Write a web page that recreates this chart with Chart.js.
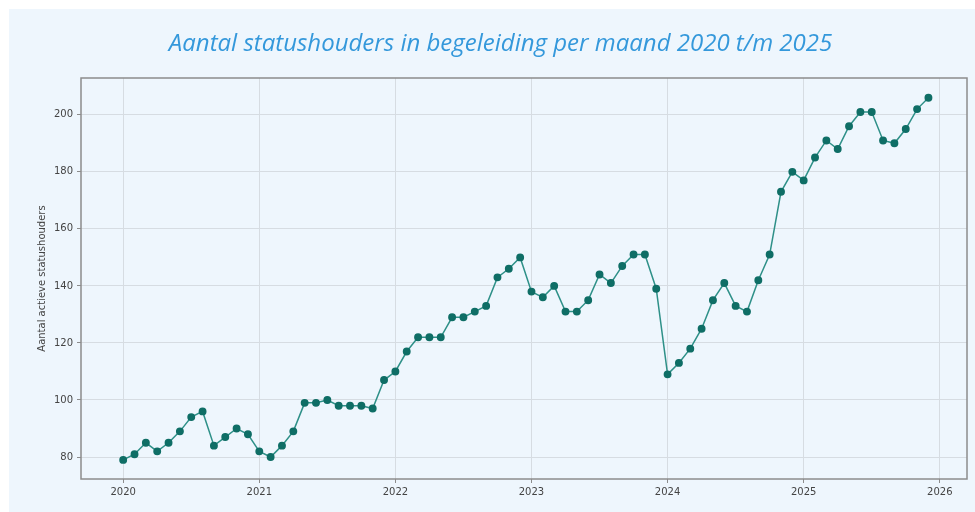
<!DOCTYPE html>
<html>
<head>
<meta charset="utf-8">
<script src="https://cdn.jsdelivr.net/npm/chart.js@4/dist/chart.umd.min.js"></script>
<style>
  html, body { margin: 0; padding: 0; background: #ffffff; overflow: hidden; }
  #card {
    position: absolute; left: 9px; top: 9px;
    width: 982px; height: 503px;
    background: #eef6fd;
  }
</style>
</head>
<body>
<div id="card"><canvas id="statusChart" width="982" height="503"></canvas></div>
<script>
const years = [2020, 2021, 2022, 2023, 2024, 2025];
const counts = [
  79, 81, 85, 82, 85, 89, 94, 96, 84, 87, 90, 88,
  82, 80, 84, 89, 99, 99, 100, 98, 98, 98, 97, 107,
  110, 117, 122, 122, 122, 129, 129, 131, 133, 143, 146, 150,
  138, 136, 140, 131, 131, 135, 144, 141, 147, 151, 151, 139,
  109, 113, 118, 125, 135, 141, 133, 131, 142, 151, 173, 180,
  177, 185, 191, 188, 196, 201, 201, 191, 190, 195, 202, 206
];
const xTicks = [2020, 2021, 2022, 2023, 2024, 2025, 2026];
const yTicks = [80, 100, 120, 140, 160, 180, 200];

// one point per month, placed on a decimal-year axis
const points = [];
years.forEach((year, yi) => {
  for (let m = 0; m < 12; m++) {
    points.push({ x: year + m / 12, y: counts[yi * 12 + m] });
  }
});

const frame = {
  id: "frame",
  beforeDatasetsDraw(chart) {
    const { ctx, chartArea: a } = chart;
    ctx.save();
    ctx.strokeStyle = "#8c8c8c";
    ctx.lineWidth = 1.5;
    ctx.strokeRect(a.left, a.top, a.right - a.left, a.bottom - a.top);
    ctx.restore();
  }
};

const tickFont = { family: "DejaVu Sans", size: 10 };

new Chart(document.getElementById("statusChart").getContext("2d"), {
  type: "line",
  data: {
    datasets: [{
      data: points,
      borderColor: "#2e9088",
      borderWidth: 1.5,
      pointBackgroundColor: "#0f6e66",
      pointBorderColor: "#0f6e66",
      pointRadius: 3.2,
      tension: 0
    }]
  },
  options: {
    responsive: false,
    animation: false,
    layout: { padding: { left: 25, right: 24, top: 0, bottom: 0 } },
    plugins: {
      legend: { display: false },
      tooltip: { enabled: false },
      title: {
        display: true,
        text: "Aantal statushouders in begeleiding per maand 2020 t/m 2025",
        color: "#3498db",
        font: { family: "Open Sans", size: 24, style: "italic", weight: "normal", lineHeight: 1.2 },
        padding: { top: 20.6, bottom: 19.6 }
      }
    },
    scales: {
      x: {
        type: "linear",
        min: 2019.69,
        max: 2026.2,
        afterBuildTicks: (scale) => { scale.ticks = xTicks.map((v) => ({ value: v })); },
        afterFit: (scale) => { scale.height = 33; },
        ticks: {
          color: "#444444",
          font: tickFont,
          padding: 3,
          maxRotation: 0,
          callback: (v) => String(v)
        },
        grid: { color: "#d6dce2", lineWidth: 1, tickColor: "#8c8c8c", tickLength: 4 },
        border: { display: false }
      },
      y: {
        min: 72.3,
        max: 212.9,
        afterBuildTicks: (scale) => { scale.ticks = yTicks.map((v) => ({ value: v })); },
        afterFit: (scale) => { scale.width = 47; },
        ticks: { color: "#444444", font: tickFont, padding: 4 },
        grid: { color: "#d6dce2", lineWidth: 1, tickColor: "#8c8c8c", tickLength: 4 },
        border: { display: false },
        title: {
          display: true,
          text: "Aantal actieve statushouders",
          color: "#444444",
          font: { family: "DejaVu Sans", size: 10 },
          padding: { top: 2, bottom: 0 }
        }
      }
    }
  },
  plugins: [frame]
});
</script>
</body>
</html>
